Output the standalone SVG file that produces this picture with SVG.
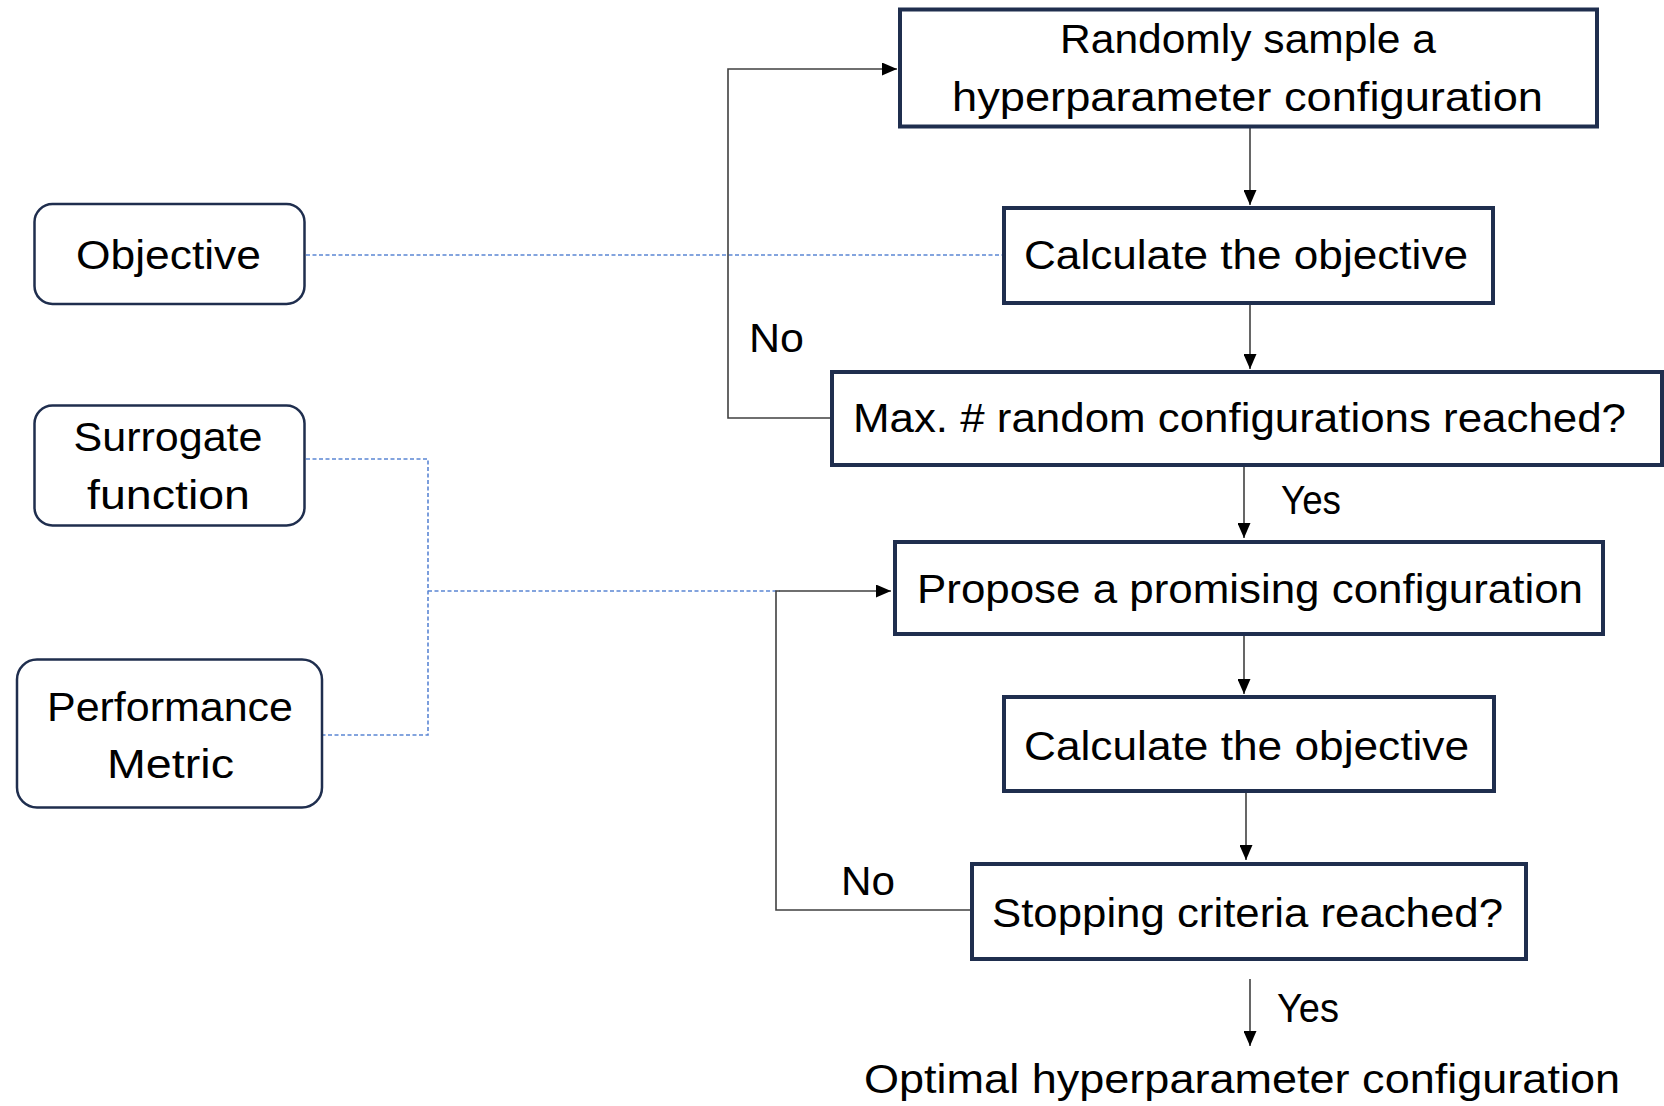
<svg xmlns="http://www.w3.org/2000/svg" width="1664" height="1106" viewBox="0 0 1664 1106">
  <defs>
    <style>
      .box { fill: #ffffff; stroke: #1f2e4e; stroke-width: 4; }
      .side { fill: #ffffff; stroke: #1f2e4e; stroke-width: 2.5; }
      .lbl { font-family: "Liberation Sans", Arial, sans-serif; font-size: 40px; fill: #000000; }
      .flow { fill: none; stroke: #404040; stroke-width: 1.6; }
      .link { fill: none; stroke: #5b86d4; stroke-width: 1.6; stroke-dasharray: 4 2.5; }
    </style>
    <marker id="arrow" markerUnits="userSpaceOnUse" markerWidth="15" markerHeight="13" refX="15" refY="6.5" orient="auto">
      <path d="M0,0 L15,6.5 L0,13 Z" fill="#000000"/>
    </marker>
  </defs>

  <rect width="1664" height="1106" fill="#ffffff"/>

  <!-- connectors -->
  <g id="connectors">
    <!-- dashed links from the side concepts -->
    <path class="link" d="M306 255 H1002"/>
    <path class="link" d="M306 459 H428 V735 H323"/>
    <path class="link" d="M428 591 H780"/>
    <!-- random-search loop -->
    <path class="flow" d="M831 418 H728 V69 H897" marker-end="url(#arrow)"/>
    <path class="flow" d="M1250 128 V205" marker-end="url(#arrow)"/>
    <path class="flow" d="M1250 305 V369" marker-end="url(#arrow)"/>
    <path class="flow" d="M1244 467 V538" marker-end="url(#arrow)"/>
    <!-- guided-search loop -->
    <path class="flow" d="M1244 636 V694" marker-end="url(#arrow)"/>
    <path class="flow" d="M1246 793 V860" marker-end="url(#arrow)"/>
    <path class="flow" d="M970 910 H776 V591 H891" marker-end="url(#arrow)"/>
    <path class="flow" d="M1250 979 V1046" marker-end="url(#arrow)"/>
    <!-- branch labels -->
    <text class="lbl" x="749" y="352" textLength="55" lengthAdjust="spacingAndGlyphs">No</text>
    <text class="lbl" x="1281" y="514" textLength="60" lengthAdjust="spacingAndGlyphs">Yes</text>
    <text class="lbl" x="841" y="895" textLength="54" lengthAdjust="spacingAndGlyphs">No</text>
    <text class="lbl" x="1277" y="1022" textLength="62" lengthAdjust="spacingAndGlyphs">Yes</text>
  </g>

  <!-- side concepts -->
  <g id="objective">
    <rect class="side" x="34.5" y="204" width="270" height="100" rx="18"/>
    <text class="lbl" x="76" y="269" textLength="185" lengthAdjust="spacingAndGlyphs">Objective</text>
  </g>
  <g id="surrogate">
    <rect class="side" x="34.5" y="405.5" width="270" height="120" rx="18"/>
    <text class="lbl" x="73.5" y="451" textLength="189" lengthAdjust="spacingAndGlyphs">Surrogate</text>
    <text class="lbl" x="87" y="509" textLength="163" lengthAdjust="spacingAndGlyphs">function</text>
  </g>
  <g id="metric">
    <rect class="side" x="17" y="659.5" width="305" height="148" rx="20"/>
    <text class="lbl" x="47" y="721" textLength="246" lengthAdjust="spacingAndGlyphs">Performance</text>
    <text class="lbl" x="107" y="778" textLength="127" lengthAdjust="spacingAndGlyphs">Metric</text>
  </g>

  <!-- flow steps -->
  <g id="sample">
    <rect class="box" x="900" y="9.5" width="697" height="117"/>
    <text class="lbl" x="1060" y="53" textLength="376" lengthAdjust="spacingAndGlyphs">Randomly sample a</text>
    <text class="lbl" x="952" y="111" textLength="591" lengthAdjust="spacingAndGlyphs">hyperparameter configuration</text>
  </g>
  <g id="calc1">
    <rect class="box" x="1004" y="208" width="489" height="95"/>
    <text class="lbl" x="1024" y="269" textLength="444" lengthAdjust="spacingAndGlyphs">Calculate the objective</text>
  </g>
  <g id="maxcheck">
    <rect class="box" x="832" y="372" width="830" height="93"/>
    <text class="lbl" x="853" y="432" textLength="773" lengthAdjust="spacingAndGlyphs">Max. # random configurations reached?</text>
  </g>
  <g id="propose">
    <rect class="box" x="895" y="542" width="708" height="92"/>
    <text class="lbl" x="917" y="603" textLength="666" lengthAdjust="spacingAndGlyphs">Propose a promising configuration</text>
  </g>
  <g id="calc2">
    <rect class="box" x="1004" y="697" width="490" height="94"/>
    <text class="lbl" x="1024" y="760" textLength="445" lengthAdjust="spacingAndGlyphs">Calculate the objective</text>
  </g>
  <g id="stopcheck">
    <rect class="box" x="972" y="864" width="554" height="95"/>
    <text class="lbl" x="992" y="927" textLength="511" lengthAdjust="spacingAndGlyphs">Stopping criteria reached?</text>
  </g>
  <g id="result">
    <text class="lbl" x="864" y="1093" textLength="756" lengthAdjust="spacingAndGlyphs">Optimal hyperparameter configuration</text>
  </g>
</svg>
